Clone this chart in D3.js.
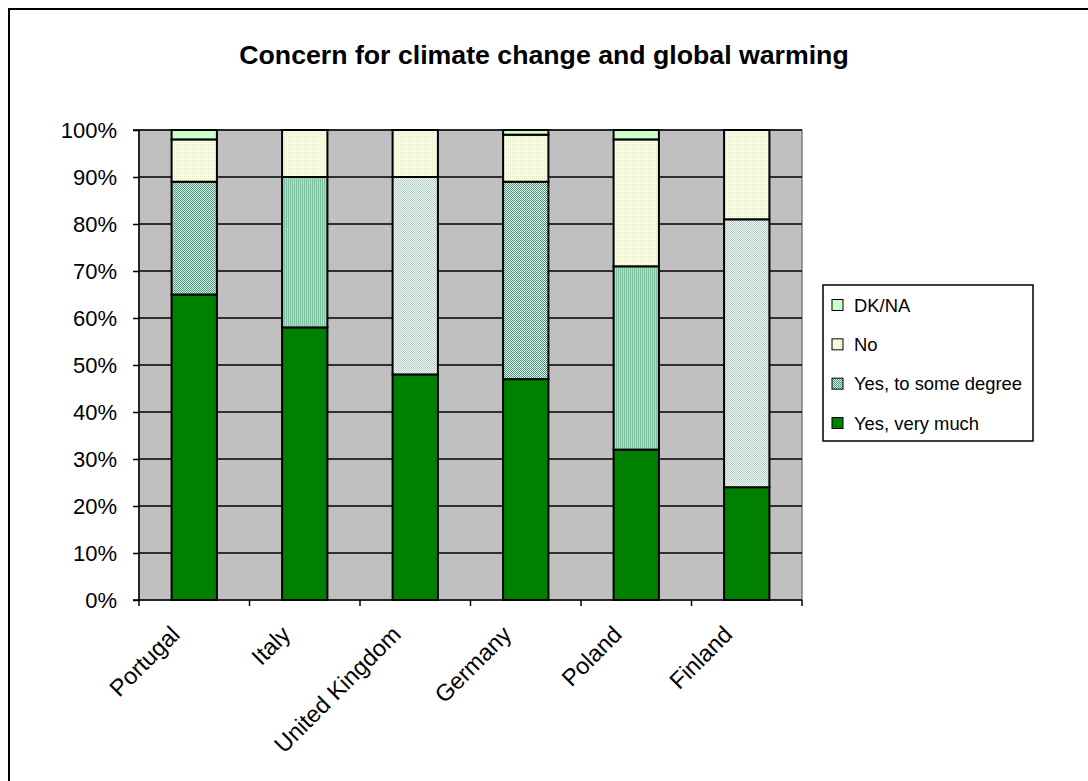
<!DOCTYPE html>
<html>
<head>
<meta charset="utf-8">
<script src="https://cdn.jsdelivr.net/npm/d3@7"></script>
<style>
  html, body { margin: 0; padding: 0; background: #ffffff; }
  svg { display: block; font-family: Arial, "Liberation Sans", sans-serif; }
</style>
</head>
<body>
<svg id="chart" width="1088" height="781"></svg>
<script>
// Survey shares (%) by country
const categories = ["Portugal", "Italy", "United Kingdom", "Germany", "Poland", "Finland"];
const yesVeryMuch = [65, 58, 48, 47, 32, 24];
const yesSomeDegree = [24, 32, 42, 42, 39, 57];
const noAnswer = [9, 10, 10, 10, 27, 19];
const dkNa = [2, 0, 0, 1, 2, 0];
const seriesNames = ["Yes, very much", "Yes, to some degree", "No", "DK/NA"];
const yTicks = [0, 10, 20, 30, 40, 50, 60, 70, 80, 90, 100];

// Fill styles: the "to some degree" segments use several hatch patterns
const someDegreeFills = ["url(#checkMid)", "url(#stripes)", "url(#checkLight)", "url(#checkDark)", "url(#stripes)", "url(#checkLight)"];

const svg = d3.select("#chart");
const W = 1088, H = 781;

// pixel patterns
const defs = svg.append("defs");
function checker(id, a, b) {
  const p = defs.append("pattern").attr("id", id).attr("patternUnits", "userSpaceOnUse")
    .attr("width", 2).attr("height", 2);
  p.append("rect").attr("width", 2).attr("height", 2).attr("fill", b);
  p.append("rect").attr("width", 1).attr("height", 1).attr("fill", a);
  p.append("rect").attr("x", 1).attr("y", 1).attr("width", 1).attr("height", 1).attr("fill", a);
}
checker("checkDark", "#33996b", "#ffffff");
checker("checkMid", "#4d9f80", "#d8e8e0");
checker("checkLight", "#aed2c2", "#f8f8f8");
{
  const p = defs.append("pattern").attr("id", "stripes").attr("patternUnits", "userSpaceOnUse")
    .attr("width", 2).attr("height", 2);
  p.append("rect").attr("width", 2).attr("height", 2).attr("fill", "#b5dcc8");
  p.append("rect").attr("width", 1).attr("height", 2).attr("fill", "#7dc1a0");
}
{
  const p = defs.append("pattern").attr("id", "noDots").attr("patternUnits", "userSpaceOnUse")
    .attr("width", 2).attr("height", 2);
  p.append("rect").attr("width", 2).attr("height", 2).attr("fill", "#fcfcec");
  p.append("rect").attr("width", 1).attr("height", 1).attr("fill", "#e4ecc4");
}

// outer frame
svg.append("rect").attr("x", 9).attr("y", 9).attr("width", W).attr("height", H)
  .attr("fill", "#ffffff").attr("stroke", "#000").attr("stroke-width", 2);

// title
svg.append("text").attr("x", 544).attr("y", 64).attr("text-anchor", "middle")
  .attr("font-size", 26.7).attr("font-weight", "bold").text("Concern for climate change and global warming");

const plot = { left: 139, right: 802, top: 130, bottom: 600 };

const x = d3.scaleBand().domain(categories).range([plot.left, plot.right]).padding(0);
const y = d3.scaleLinear().domain([0, 100]).range([plot.bottom, plot.top]);
const barW = x.bandwidth() * 0.41;

// plot background
svg.append("rect").attr("x", plot.left).attr("y", plot.top)
  .attr("width", plot.right - plot.left).attr("height", plot.bottom - plot.top)
  .attr("fill", "#c0c0c0").attr("stroke", "#808080").attr("stroke-width", 1.5);

// gridlines
svg.append("g").selectAll("line").data(yTicks.filter(d => d > 0)).join("line")
  .attr("x1", plot.left).attr("x2", plot.right)
  .attr("y1", d => y(d)).attr("y2", d => y(d))
  .attr("stroke", "#000").attr("stroke-width", 1.5);

// stacked bars
const rows = categories.map((c, i) => ({
  country: c,
  [seriesNames[0]]: yesVeryMuch[i],
  [seriesNames[1]]: yesSomeDegree[i],
  [seriesNames[2]]: noAnswer[i],
  [seriesNames[3]]: dkNa[i],
  idx: i
}));
const stacked = d3.stack().keys(seriesNames)(rows);
const seriesFill = (key, i) => {
  if (key === seriesNames[0]) return "#008000";
  if (key === seriesNames[1]) return someDegreeFills[i];
  if (key === seriesNames[2]) return "url(#noDots)";
  return "#ccffcc";
};
svg.append("g").selectAll("g").data(stacked).join("g")
  .each(function (s) {
    d3.select(this).selectAll("rect").data(s.filter(d => d[1] - d[0] > 0)).join("rect")
      .attr("x", d => x(d.data.country) + (x.bandwidth() - barW) / 2)
      .attr("width", barW)
      .attr("y", d => y(d[1]))
      .attr("height", d => y(d[0]) - y(d[1]))
      .attr("fill", d => seriesFill(s.key, d.data.idx))
      .attr("stroke", "#000").attr("stroke-width", 2);
  });

// y axis
const yAxis = d3.axisLeft(y).tickValues(yTicks).tickFormat(d => d + "%").tickSize(6).tickPadding(16);
const gy = svg.append("g").attr("transform", `translate(${plot.left},0)`).call(yAxis);
gy.select(".domain").attr("stroke", "#000").attr("stroke-width", 1.5).attr("d", `M-6,${plot.top}H0V${plot.bottom}H-6`);
gy.selectAll(".tick line").attr("stroke", "#000").attr("stroke-width", 1.5);
gy.selectAll(".tick text").attr("font-size", 22).attr("fill", "#000")
  .attr("font-family", "Arial, 'Liberation Sans', sans-serif");

// x axis with ticks at band boundaries
const gx = svg.append("g");
gx.append("line").attr("x1", plot.left).attr("x2", plot.right)
  .attr("y1", plot.bottom).attr("y2", plot.bottom).attr("stroke", "#000").attr("stroke-width", 1.5);
const bounds = categories.map(c => x(c)).concat([plot.right]);
gx.selectAll("line.tk").data(bounds).join("line").attr("class", "tk")
  .attr("x1", d => d).attr("x2", d => d).attr("y1", plot.bottom).attr("y2", plot.bottom + 6)
  .attr("stroke", "#000").attr("stroke-width", 1.5);
gx.selectAll("text").data(categories).join("text")
  .attr("transform", d => `translate(${x(d) + x.bandwidth() / 2 - 13},${plot.bottom + 36}) rotate(-45)`)
  .attr("text-anchor", "end")
  .attr("font-size", 23.5).text(d => d);

// legend
const lg = svg.append("g");
lg.append("rect").attr("x", 823).attr("y", 285).attr("width", 210).attr("height", 156)
  .attr("fill", "#fff").attr("stroke", "#000").attr("stroke-width", 1.5);
const legendItems = [
  { name: "DK/NA", fill: "#ccffcc" },
  { name: "No", fill: "url(#noDots)" },
  { name: "Yes, to some degree", fill: "url(#checkMid)" },
  { name: "Yes, very much", fill: "#008000" }
];
const lgY = d3.scalePoint().domain(legendItems.map(d => d.name)).range([305, 423]);
legendItems.forEach(it => {
  lg.append("rect").attr("x", 832).attr("y", lgY(it.name) - 5.5).attr("width", 11).attr("height", 11)
    .attr("fill", it.fill).attr("stroke", "#000").attr("stroke-width", 1);
  lg.append("text").attr("x", 854).attr("y", lgY(it.name)).attr("dy", "0.36em")
    .attr("font-size", 18.4).text(it.name);
});
</script>
</body>
</html>
